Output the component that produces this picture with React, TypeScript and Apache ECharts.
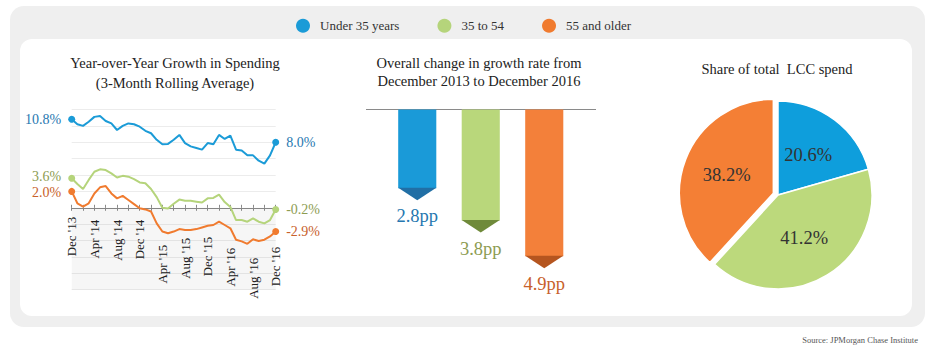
import React, { useEffect, useRef } from "react";
import * as echarts from "echarts";

const seriesNames = ["Under 35 years", "35 to 54", "55 and older"];

const months = [
  "Dec '13",
  "Jan '14", "Feb '14", "Mar '14", "Apr '14", "May '14", "Jun '14", "Jul '14", "Aug '14", "Sep '14", "Oct '14", "Nov '14", "Dec '14",
  "Jan '15", "Feb '15", "Mar '15", "Apr '15", "May '15", "Jun '15", "Jul '15", "Aug '15", "Sep '15", "Oct '15", "Nov '15", "Dec '15",
  "Jan '16", "Feb '16", "Mar '16", "Apr '16", "May '16", "Jun '16", "Jul '16", "Aug '16", "Sep '16", "Oct '16", "Nov '16", "Dec '16",
];

const under35 = [10.8, 10.2, 10.0, 10.5, 11.1, 11.2, 10.6, 10.3, 9.5, 10.0, 10.3, 10.2, 9.9, 9.4, 9.1, 8.3, 7.75, 7.8, 8.3, 8.9, 7.9, 7.5, 7.3, 7.1, 7.9, 7.75, 8.9, 8.4, 8.8, 7.1, 7.0, 6.4, 6.4, 5.75, 5.4, 6.4, 8.0];
const age35to54 = [3.6, 2.9, 2.3, 3.4, 4.4, 4.7, 4.6, 4.2, 3.7, 3.9, 3.8, 3.5, 3.1, 3.0, 2.3, 1.3, 0.0, -0.1, 0.5, 1.0, 0.85, 0.85, 0.75, 0.65, 1.15, 1.2, 1.6, 0.7, 0.1, -1.5, -1.5, -1.7, -1.3, -1.7, -1.9, -1.5, -0.2];
const age55plus = [2.0, 0.55, 0.15, 0.55, 1.75, 2.5, 2.65, 1.75, 1.15, 1.45, 0.95, 0.45, -0.05, -0.2, -0.45, -1.9, -2.9, -3.1, -2.9, -2.6, -2.7, -2.7, -2.6, -2.4, -2.2, -2.1, -1.7, -2.1, -2.5, -3.9, -4.1, -4.4, -3.85, -4.05, -3.9, -3.5, -2.9];

const overallChange = [2.8, 3.8, 4.9];
const shareOfSpend = [20.6, 41.2, 38.2];

const lineValues = [under35, age35to54, age55plus];

// styles
const SERIF = "Liberation Serif";
const lineColors = ["#1b9bd7", "#b5d47b", "#f07b2f"];
const labelColors = ["#2677b0", "#8d9c52", "#c8612b"];
const barMain = ["#1a9ad8", "#b9d77b", "#f3803a"];
const barDark = ["#216fa5", "#6f8a3a", "#b5551f"];
const pieColors = ["#0e9edc", "#bcd97c", "#f47f35"];
const labelDrop = [1, 4, 4, 4, 29, 22, 21, 32, 42, 31];
const firstLabelNudge = [0, -1.5, 1.5];

const Y_MIN = -10;
const Y_MAX = 12;
const GRID0_TOP = 109.5;
const GRID0_H = 180.2;
// distances from the grid edges to the zero line
const zeroFromBottom = -(GRID0_H * (0 - Y_MIN)) / (Y_MAX - Y_MIN);
const zeroFromTop = -(GRID0_H * (Y_MAX - 0)) / (Y_MAX - Y_MIN);

function buildLine(idx: number) {
  const vals = lineValues[idx];
  const last = vals.length - 1;
  return {
    type: "line",
    name: seriesNames[idx],
    xAxisIndex: 0,
    yAxisIndex: 0,
    color: lineColors[idx],
    lineStyle: { width: 2, color: lineColors[idx] },
    symbol: "circle",
    showSymbol: true,
    z: 3 + idx,
    data: vals.map((v, i) => {
      if (i === 0 || i === last) {
        return {
          value: v,
          symbol: "circle",
          symbolSize: 7,
          label: {
            show: true,
            position: i === 0 ? "left" : "right",
            distance: 7,
            offset: [0, i === 0 ? firstLabelNudge[idx] : 0],
            formatter: (p: any) => `${Number(p.value).toFixed(1)}%`,
            color: labelColors[idx],
            fontFamily: SERIF,
            fontSize: 14,
            lineHeight: 12,
          },
        };
      }
      return { value: v, symbol: "none" };
    }),
    markArea:
      idx === 0
        ? {
            silent: true,
            itemStyle: { color: "rgba(0,0,0,0.035)" },
            data: [[{ yAxis: Y_MIN }, { yAxis: 0 }]],
          }
        : undefined,
  };
}

const rich: Record<string, any> = {};
labelDrop.forEach((d, k) => {
  rich[`s${k}`] = { padding: [0, d, 0, 0], fontFamily: SERIF, fontSize: 13, color: "#222" };
});

const option: any = {
  animation: false,
  legend: {
    data: seriesNames,
    left: 291,
    top: 13.7,
    icon: "circle",
    itemWidth: 24,
    itemHeight: 14,
    itemGap: 38,
    selectedMode: false,
    textStyle: { fontFamily: SERIF, fontSize: 13, color: "#333" },
  },
  graphic: [
    { type: "rect", z: -20, silent: true, shape: { x: 10, y: 6, width: 915, height: 321, r: 14 }, style: { fill: "#efefef" } },
    { type: "rect", z: -19, silent: true, shape: { x: 20, y: 39, width: 892, height: 277, r: 12 }, style: { fill: "#ffffff" } },
    {
      type: "text", x: 175, y: 53, silent: true,
      style: { text: "Year-over-Year Growth in Spending\n(3-Month Rolling Average)", align: "center", verticalAlign: "top", lineHeight: 20, fontFamily: SERIF, fontSize: 14.5, fill: "#222" },
    },
    {
      type: "text", x: 479, y: 53.7, silent: true,
      style: { text: "Overall change in growth rate from\nDecember 2013 to December 2016", align: "center", verticalAlign: "top", lineHeight: 18, fontFamily: SERIF, fontSize: 14.5, fill: "#222" },
    },
    {
      type: "text", x: 777, y: 60.3, silent: true,
      style: { text: "Share of total  LCC spend", align: "center", verticalAlign: "top", lineHeight: 18, fontFamily: SERIF, fontSize: 14.5, fill: "#222" },
    },
    { type: "line", silent: true, shape: { x1: 366, y1: 109.5, x2: 596, y2: 109.5 }, style: { stroke: "#8a8a8a", lineWidth: 1 } },
    {
      type: "text", x: 918, y: 340, silent: true,
      style: { text: "Source: JPMorgan Chase Institute", align: "right", verticalAlign: "middle", fontFamily: SERIF, fontSize: 8.5, fill: "#555" },
    },
  ],
  grid: [
    { left: 71.7, top: GRID0_TOP, width: 204, height: GRID0_H, containLabel: false, outerBoundsMode: "none" },
    { left: 385.5, top: 109.5, width: 190.5, height: 194.4, containLabel: false, outerBoundsMode: "none" },
  ],
  xAxis: [
    {
      type: "category",
      gridIndex: 0,
      data: months,
      boundaryGap: false,
      position: "bottom",
      offset: zeroFromBottom,
      axisLine: { onZero: false, lineStyle: { color: "#8a8a8a", width: 1 } },
      axisTick: { show: true, interval: 1, length: 3, lineStyle: { color: "#8a8a8a" } },
      axisLabel: {
        interval: 3,
        rotate: 90,
        margin: 8,
        hideOverlap: false,
        formatter: (value: string, index: number) => `{s${Math.round(index / 4)}|${value}}`,
        rich,
        fontFamily: SERIF,
        fontSize: 13,
        color: "#222",
      },
      splitLine: { show: false },
    },
    {
      type: "category",
      gridIndex: 0,
      data: months,
      boundaryGap: false,
      position: "top",
      offset: zeroFromTop,
      axisLine: { show: false, onZero: false },
      axisTick: { show: true, interval: 1, length: 3, lineStyle: { color: "#8a8a8a" } },
      axisLabel: { show: false },
      splitLine: { show: false },
    },
    {
      type: "category",
      gridIndex: 1,
      data: seriesNames,
      axisLine: { show: false },
      axisTick: { show: false },
      axisLabel: { show: false },
      splitLine: { show: false },
    },
  ],
  yAxis: [
    {
      type: "value",
      gridIndex: 0,
      min: Y_MIN,
      max: Y_MAX,
      interval: 2,
      axisLine: { show: false },
      axisTick: { show: false },
      axisLabel: { show: false },
      splitLine: { show: true, lineStyle: { color: "#ececec", width: 1 } },
    },
    {
      type: "value",
      gridIndex: 1,
      min: 0,
      max: 6,
      inverse: true,
      axisLine: { show: false },
      axisTick: { show: false },
      axisLabel: { show: false },
      splitLine: { show: false },
    },
  ],
  series: [
    buildLine(0),
    buildLine(1),
    buildLine(2),
    {
      type: "custom",
      name: "Overall change",
      xAxisIndex: 2,
      yAxisIndex: 1,
      data: overallChange.map((v, i) => [i, v]),
      renderItem: (params: any, api: any) => {
        const i = api.value(0);
        const v = api.value(1);
        const p0 = api.coord([i, 0]);
        const p1 = api.coord([i, v]);
        const band = api.size([1, 0])[0];
        const w = band * 0.6;
        const tip = 12;
        const l = p0[0] - w / 2;
        const r = p0[0] + w / 2;
        return {
          type: "group",
          children: [
            { type: "rect", shape: { x: l, y: p0[1], width: w, height: p1[1] - p0[1] - tip }, style: { fill: barMain[i] } },
            { type: "polygon", shape: { points: [[l, p1[1] - tip - 0.5], [r, p1[1] - tip - 0.5], [p0[0], p1[1]]] }, style: { fill: barDark[i] } },
            {
              type: "text",
              x: p0[0],
              y: p1[1] + 16,
              style: { text: `${v.toFixed(1)}pp`, align: "center", verticalAlign: "middle", fontFamily: SERIF, fontSize: 18.5, fill: labelColors[i] },
            },
          ],
        };
      },
    },
    {
      type: "pie",
      name: "Share of total LCC spend",
      center: [778, 195],
      radius: 94,
      startAngle: 90,
      clockwise: true,
      selectedMode: "single",
      selectedOffset: 5,
      avoidLabelOverlap: false,
      emphasis: { disabled: true },
      itemStyle: { borderColor: "#ffffff", borderWidth: 1.5 },
      label: {
        show: true,
        position: "inside",
        formatter: (p: any) => `${Number(p.value).toFixed(1)}%`,
        fontFamily: SERIF,
        fontSize: 18.5,
        color: "#333",
      },
      labelLine: { show: false },
      data: shareOfSpend.map((v, i) => ({
        value: v,
        name: seriesNames[i],
        selected: i === 2,
        itemStyle: { color: pieColors[i] },
      })),
    },
  ],
};

export default function App() {
  const ref = useRef<HTMLDivElement>(null);
  useEffect(() => {
    const chart = echarts.init(ref.current!, null, { renderer: "svg" });
    chart.setOption(option);
    return () => chart.dispose();
  }, []);
  return <div ref={ref} style={{ position: "absolute", left: 0, top: 0, width: 947, height: 355 }} />;
}
